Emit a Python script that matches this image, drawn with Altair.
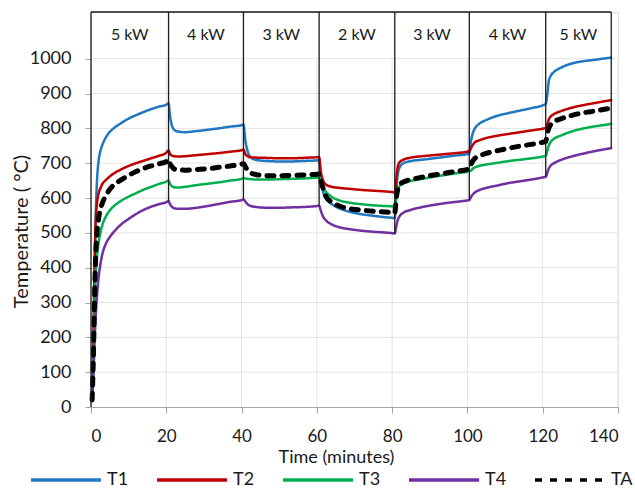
import altair as alt
import pandas as pd

# ---- series -------------------------------------------------------------
series_names = ["T1", "T2", "T3", "T4", "TA"]
series_colors = ["#1f78c1", "#c00000", "#00b050", "#7030a0", "#000000"]
series_dashes = [[1, 0], [1, 0], [1, 0], [1, 0], [7, 8]]

# time (minutes)
time_min = [
    0.3, 0.6, 0.9, 1.2, 1.6, 2.0, 2.5, 3.0, 4, 5, 6, 8, 10, 12, 14, 16, 18, 20, 20.6,
    21.0, 21.5, 22, 23, 25, 28, 31, 34, 37, 40, 40.5,
    41.0, 41.6, 42.5, 44, 47, 50, 53, 56, 58, 60, 60.6,
    61.0, 61.6, 62.5, 64, 66, 69, 72, 75, 78, 80, 80.7,
    81.1, 81.5, 82, 83, 85, 88, 91, 94, 97, 100, 100.5,
    100.9, 101.4, 102, 103, 105, 108, 111, 114, 117, 120, 120.8,
    121.2, 121.6, 122.2, 123, 125, 128, 131, 134, 136, 138.2,
]

t1 = [
    20, 120, 330, 520, 650, 705, 735, 752, 775, 790, 800, 815, 828, 838, 847, 855, 862, 868, 872,
    835, 808, 797, 791, 789, 792, 796, 800, 805, 809, 811,
    765, 735, 716, 709, 706, 705, 705, 706, 707, 708, 709,
    665, 620, 598, 582, 570, 560, 553, 549, 545, 543, 542,
    620, 668, 688, 700, 706, 710, 714, 718, 722, 726, 728,
    760, 785, 800, 812, 824, 836, 844, 851, 858, 866, 870,
    895, 935, 952, 962, 975, 987, 993, 997, 1000, 1003,
]
t2 = [
    20, 180, 380, 520, 585, 612, 628, 640, 652, 662, 670, 682, 692, 700, 707, 714, 721, 730, 737,
    726, 722, 720, 719, 720, 723, 726, 729, 733, 737, 739,
    726, 720, 717, 716, 715, 714, 714, 715, 716, 717, 718,
    680, 652, 638, 632, 629, 626, 623, 621, 619, 617, 616,
    655, 690, 703, 710, 716, 720, 723, 726, 729, 733, 735,
    742, 752, 760, 765, 772, 779, 784, 789, 794, 799, 801,
    812, 825, 835, 841, 850, 860, 867, 873, 877, 881,
]
t3 = [
    20, 110, 260, 370, 430, 470, 500, 522, 548, 565, 576, 592, 604, 614, 624, 632, 640, 647, 650,
    640, 634, 631, 630, 632, 637, 641, 645, 650, 655, 657,
    656, 655, 654, 653, 653, 654, 655, 656, 657, 658, 658,
    645, 630, 617, 603, 593, 586, 582, 579, 577, 576, 575,
    600, 622, 635, 642, 649, 655, 661, 666, 671, 676, 678,
    678, 684, 688, 692, 696, 701, 706, 710, 714, 719, 721,
    735, 750, 762, 770, 780, 792, 800, 806, 809, 813,
]
t4 = [
    20, 80, 170, 250, 320, 370, 410, 438, 470, 488, 502, 524, 540, 554, 566, 575, 582, 588, 591,
    582, 575, 571, 569, 569, 572, 577, 583, 589, 594, 596,
    590, 582, 577, 574, 572, 572, 573, 574, 575, 577, 578,
    565, 548, 535, 524, 516, 510, 506, 503, 501, 499, 498,
    520, 537, 548, 558, 566, 574, 580, 585, 589, 593, 594,
    602, 610, 616, 622, 629, 636, 643, 648, 653, 659, 661,
    672, 684, 694, 700, 710, 720, 728, 735, 739, 743,
]
ta = [
    20, 130, 290, 420, 500, 540, 568, 585, 608, 625, 637, 652, 665, 676, 685, 692, 698, 705, 711,
    698, 690, 684, 681, 680, 682, 684, 688, 692, 697, 699,
    690, 680, 672, 667, 664, 664, 665, 666, 667, 668, 669,
    650, 630, 603, 588, 577, 569, 565, 562, 560, 558, 557,
    600, 625, 638, 646, 653, 660, 666, 671, 677, 682, 684,
    694, 706, 714, 720, 728, 736, 743, 749, 754, 760, 762,
    785, 800, 812, 819, 828, 838, 845, 850, 854, 858,
]

# ---- power steps ---------------------------------------------------------
step_bounds = [0, 20.6, 40.5, 60.6, 80.7, 100.5, 120.8, 138.2]
step_bottoms = [0, 591, 596, 578, 498, 594, 661, 743]
step_labels = ["5 kW", "4 kW", "3 kW", "2 kW", "3 kW", "4 kW", "5 kW"]
box_top = 1134
label_level = 1067

# ---- axes ---------------------------------------------------------------
x_ticks = [0, 20, 40, 60, 80, 100, 120, 140]
y_ticks = [0, 100, 200, 300, 400, 500, 600, 700, 800, 900, 1000]

FONT = "Lato"
TEXT = "#1a1a1a"

rows = []
for name, vals in zip(series_names, [t1, t2, t3, t4, ta]):
    for t, v in zip(time_min, vals):
        rows.append({"series": name, "time": t, "temp": v})
lines_df = pd.DataFrame(rows)

sep_df = pd.DataFrame({"time": step_bounds, "temp": step_bottoms, "temp2": [box_top] * len(step_bounds)})
top_df = pd.DataFrame({"time": [step_bounds[0]], "time2": [step_bounds[-1]], "temp": [box_top]})
lab_df = pd.DataFrame({
    "time": [(a + b) / 2 for a, b in zip(step_bounds[:-1], step_bounds[1:])],
    "temp": [label_level] * len(step_labels),
    "label": step_labels,
})
vgrid_df = pd.DataFrame({"time": x_ticks[1:], "temp": [0] * 7, "temp2": [y_ticks[-1]] * 7})
hgrid_df = pd.DataFrame({"time": [0] * 10, "time2": [x_ticks[-1]] * 10, "temp": y_ticks[1:]})

x_scale = alt.Scale(domain=[0, 140], nice=False, zero=False)
y_scale = alt.Scale(domain=[0, box_top], nice=False)

x_axis = alt.Axis(
    values=x_ticks, grid=False, title="Time (minutes)", format="d",
    domainColor="#a6a6a6", tickColor="#a6a6a6", tickSize=6,
    labelPadding=15, labelFontSize=17, labelFont=FONT, labelColor=TEXT,
    titleFontSize=18, titleFont=FONT, titleFontWeight="normal", titleColor=TEXT,
    titleX=245, titleY=41, titleBaseline="top",
)
y_axis = alt.Axis(
    values=y_ticks, grid=False, title="Temperature ( °C)", domain=False, format="d",
    tickColor="#a6a6a6", tickSize=6,
    labelPadding=14, labelFontSize=18, labelFont=FONT, labelColor=TEXT,
    titleFontSize=20, titleFont=FONT, titleFontWeight="normal", titleColor=TEXT,
    titleX=-60, titleY=219,
)

legend = alt.Legend(
    title=None, orient="none", legendX=-62, legendY=431, direction="horizontal",
    symbolType="stroke", symbolSize=4900, symbolStrokeWidth=3.5,
    labelFontSize=18, labelFont=FONT, labelColor=TEXT,
    labelOffset=4, columnPadding=21, padding=0,
)

X = alt.X("time:Q", scale=x_scale, axis=x_axis)
Y = alt.Y("temp:Q", scale=y_scale, axis=y_axis)

grid_v = alt.Chart(vgrid_df).mark_rule(color="#e4e4e4", strokeWidth=1).encode(
    x=X, y=Y, y2="temp2:Q",
)
grid_h = alt.Chart(hgrid_df).mark_rule(color="#e4e4e4", strokeWidth=1).encode(
    x=X, x2="time2:Q", y=Y,
)

lines = alt.Chart(lines_df).mark_line(interpolate="monotone", strokeCap="round").encode(
    x=X,
    y=Y,
    color=alt.Color("series:N", scale=alt.Scale(domain=series_names, range=series_colors), legend=legend),
    strokeDash=alt.StrokeDash("series:N", scale=alt.Scale(domain=series_names, range=series_dashes), legend=legend),
    strokeWidth=alt.condition(alt.datum.series == "TA", alt.value(5), alt.value(2.5)),
    order=alt.Order("time:Q"),
)

seps = alt.Chart(sep_df).mark_rule(color="#1a1a1a", strokeWidth=1.3).encode(
    x=X, y=Y, y2="temp2:Q",
)
top_line = alt.Chart(top_df).mark_rule(color="#1a1a1a", strokeWidth=1.3).encode(
    x=X, x2="time2:Q", y=Y,
)
labels = alt.Chart(lab_df).mark_text(font=FONT, fontSize=16, color=TEXT, baseline="middle").encode(
    x=X, y=Y, text="label:N",
)

chart = (
    alt.layer(grid_v, grid_h, lines, seps, top_line, labels)
    .properties(
        width=527, height=395,
        autosize=alt.AutoSizeParams(type="none"),
        padding={"left": 91, "top": 12, "right": 17, "bottom": 81},
    )
    .configure_view(stroke=None)
    .configure(background="white", font=FONT)
)

chart.save("out.html", embed_options={"renderer": "svg", "actions": False})
